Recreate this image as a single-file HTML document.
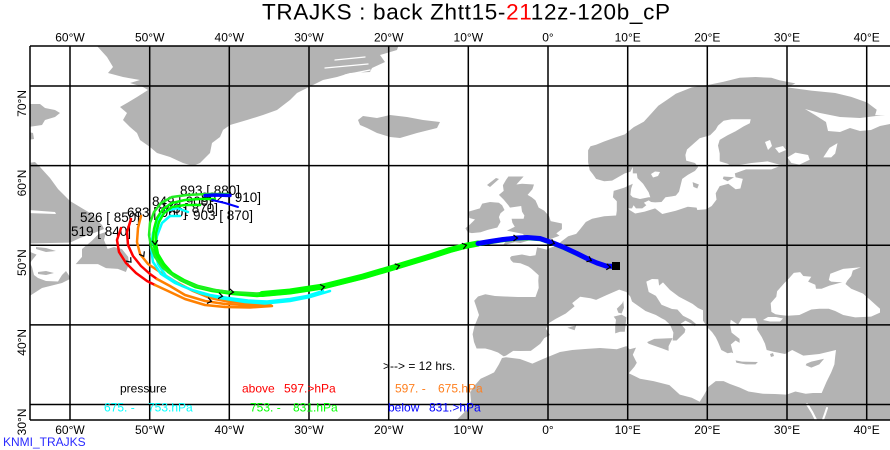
<!DOCTYPE html>
<html><head><meta charset="utf-8"><style>
html,body{margin:0;padding:0;background:#fff;}
svg{display:block;font-family:"Liberation Sans",Arial,sans-serif;}
</style></head><body>
<svg width="890" height="450" viewBox="0 0 890 450" xmlns="http://www.w3.org/2000/svg">
<rect x="0" y="0" width="890" height="450" fill="#fff"/>
<defs><clipPath id="cp"><rect x="30" y="46" width="860" height="374"/></clipPath></defs>
<g clip-path="url(#cp)">
<g fill="#b3b3b3" stroke="none">
<polygon points="456.6,420 460.6,416 468.6,408 471,401 470.2,392.3 474.2,386 480.6,378.7 487.7,375.5 494.1,372.4 498.9,364.4 502,358 503.7,356.4 498,352.5 491,350 485.3,348.5 476.6,348.5 474,342 472.6,334.2 474.5,326 477,320 479,315 476,306 474.2,300.7 478,296.5 485.3,294.3 495,296 505,296.5 518,297 527,297 535.5,297 538.7,288 538.3,280.8 538.7,275.2 531.6,268.9 528.4,266.5 520.4,263.3 513.2,262.5 510.8,260.1 510,257.7 511.6,256.1 522,254.5 530,256.1 535.5,255.3 537.1,247.4 540,248 546.7,249.6 549.9,248 557.9,245 561,241.8 568.2,236.2 576.2,233.9 580.2,229.1 585.8,222 592.1,218.7 604.1,216.3 616.1,215.5 616.8,210.8 616.8,201.2 612.9,197.2 613.7,190.9 624,187.7 632.8,183.7 631.2,188.5 630.4,194.9 632.8,197.2 640,199 648.7,197.2 650.3,197.2 648.7,192.4 643.1,183.7 637.5,178.1 636.8,173.4 632.8,173.4 632.8,167 630.4,171.7 624.8,173.4 612.1,180.6 604.1,181.3 596.1,178.9 592.9,174.2 589.7,170.2 588.1,162.2 588.1,157.4 588.1,150.3 590.5,146.3 596.1,144.7 604.1,141.5 615.2,137.5 624.8,134.4 633.6,127.2 643.9,121.6 651.1,113.7 658.3,105.7 667.9,99.3 675.8,93.8 691.8,87.4 707.7,85 723.6,81.8 739.6,77.8 755.5,77 771.4,77.8 779.4,80.2 795.4,83.4 787.4,87.4 811.3,90.6 835.2,93 851.2,96.9 867.1,102.5 876.7,109.7 875.1,115.3 895,115 895,425 450,425"/>
<polygon points="502.9,245.4 514.8,242.2 520.4,243 528.4,240.6 540.3,239.8 550.7,239 559.5,235.8 556.3,233.4 561.9,229.1 561.9,223.5 550.7,221.1 549.1,216.3 544.3,210.8 538.7,207.6 535.5,200.4 531.6,197.2 527.6,194.9 532.4,189.3 534,184.5 522,183.7 516.4,184.5 523.6,176.5 508.4,176.5 506.1,179.7 502.9,185.3 503.7,190.9 498.9,194.9 503.7,199.6 508.4,205.2 510,207.6 521.2,206 522,211.6 524.4,215.5 523.6,218.7 511.6,218.7 512.4,222.7 514.8,226.7 506.9,230.7 514.8,232.3 522.8,233.9 524.4,235.5 514.8,235.5 508.4,237.9"/>
<polygon points="487,185 496,178 499,179 490,187"/>
<polygon points="497.3,227.5 500.5,221.9 498.9,217.1 500.5,213.2 504.5,210 502.1,205.2 498.9,202.8 490.1,202 482.2,203.6 479.8,208.4 468.6,211.6 469.4,218 475,219.5 470.2,224.3 465.4,228.3 467.8,232.3 471.8,233.1 480.6,232.3 487.7,229.9"/>
<polygon points="90,44 97,46 107,57 113,67 108,73 123,77 140,80 130,83 143,87 148,90 137,97 127,103 120,107 127,113 123,120 130,127 137,133 140,140 150,147 157,153 170,157 183,163 193,166 200,163 210,153 212,143 220,137 223,130 230,125 247,120 263,115 277,110 290,100 297,93 309,87 323,80 337,77 350,73 370,72 372,68 385,62 380,55 397,50 399,44"/>
<polygon points="358,120 363,116 377,118 390,115 407,117 423,120 440,122 437,128 417,133 400,138 390,137 377,133 367,128 360,125"/>
<polygon points="28,104 40,104 45,108 55,110 60,113 55,117 45,120 42,125 28,127"/>
<polygon points="28,132 33,133 34,139 28,140"/>
<polygon points="28,163 35,162 40,167 50,178 58,189 65,196 70,201 80,207 90,213 97,220 102,225 104,229 94,233 80,238 70,242.6 50,243 28,243.5"/>
<polygon points="106,232 104,240 107.6,248.9 114,247 121.9,249 128.2,256.9 129,264 125.9,272 117.9,268.9 106,268.1 98,264.1 75.7,264.1 82,256.9 82,249 91.6,241 98,234.6"/>
<polygon points="36,247 46,248 56,251 46,252 36,249"/>
<polygon points="28,251 36.6,254.6 33,259 30,263 32,267 34,275 38,278 46,281 58,281.5 62,275 66,271 70,277 70,279 62,283 42,288 28,297"/>
<polygon points="38,272 46,271 54,273 46,275 38,274"/>
</g>
<g fill="#fff" stroke="none">
<polygon points="28,210 55,212 56,214 28,213"/>
<polygon points="805,109 820,113 840,117 860,118 876,116 895,114 895,123 880,126 871,130 860,131 850,128 840,132 828,131 826,122 815,115"/>
<polygon points="629.6,210 635.2,213.5 644.7,211.6 655.1,208.4 662.3,214 675.8,210.8 687.8,206.8 696.6,207.6 697.3,210 706.1,209.2 711.7,206 716.5,199.6 715.7,193.3 719.7,186.1 728.4,183.7 735.6,189.3 740.4,188.5 742.8,178.9 735.6,177.3 734.8,173.4 746,169.4 759.5,169.4 771.4,169.4 779.4,166.2 789,166.2 779.4,164.6 767.5,161.4 751.5,163 731.6,166.2 727.6,163.8 719.7,161.4 719.7,153.5 718,145.5 719.7,139.9 727.6,135.2 735.6,131.2 743.6,126.4 749.8,123.2 750.7,119.2 741.2,119.2 731.6,119.2 723.6,120.8 718,125.6 715.7,129.6 710.1,135.2 699.7,138.3 694.2,143.1 687,149.5 685.4,155 686.2,160.6 695,163 698.1,167 695,170.9 687.8,174.9 682.2,178.9 680.6,185.3 679,191.7 675.8,195.6 671.8,196.4 665.5,197.2 661.5,202 655.1,202.4 651.1,202 648.7,200.4 643.9,202.8 646.3,205.2 642.3,208.4 636,208.4 633.6,205.2 632,208.4 628,208.4"/>
<polygon points="651,174 655,171.5 660,172 658,176 653,177.5"/>
<polygon points="787.4,157.4 795.4,152.6 808.1,155 809.7,159.8 799.4,164.6 791.4,163"/>
<polygon points="823.3,157.4 829.5,147.9 837.5,143.1 835.2,153.5 831.2,157.4"/>
<polygon points="765,142 770,140 772,146 768,150"/>
<polygon points="775,148 783,146 786,150 779,153"/>
<polygon points="500,357.5 506,355.6 513.2,350.9 520,351 530.8,350.9 536,347 540.3,343.7 544.3,338.1 549.9,335 545.9,328.6 549,323 555.5,319 565.8,313.5 574.6,306.3 572.2,303.1 580.2,296.7 590.5,298.3 596.1,299.9 606.5,295.1 619.2,289.6 626.4,292 630.4,296.7 632,301.5 645.5,311 655.9,315 661.5,318.2 665,320 670,324.6 673.4,332.6 672.6,340.5 676.6,340.5 680.6,336.5 684.6,332.6 685.4,329.4 680.6,323.8 685.4,320.6 691.8,323.8 695,326.2 695.8,323.8 691,319.8 683,315.8 677.4,309.5 672,309 661.5,304.7 655.9,295.9 648.7,292 646.3,281.6 652,279 658.3,279.2 659.1,285.6 663,282.4 670,290 679,296.7 692.6,303.9 698,308 703,310.3 703,320.6 707.7,327.8 712,332 715.7,337.3 718,342 721.3,350 727.6,353.3 731.6,352.5 733.2,353.3 730.8,344.5 735.6,340.5 739.6,342.9 739.6,338.9 731.6,332.6 730,324.6 730.8,319.8 738,324.6 742,318.2 755.5,318.2 757.9,324.6 757,329.4 761.9,337.3 765,343.7 766.7,350 773.5,351.7 785,354 792.2,350 803.3,355.6 819.3,354 836,350 835.2,356.4 834.4,364.4 831.2,372.4 826.5,381.9 821.7,393 813,393 805.7,393.8 795.4,391.5 786.6,394.6 775,394 763.5,393.8 748.4,391.5 739.6,387.5 730,384 723.6,381.1 715.7,381.1 708.5,386.8 704,395 699.7,401.8 691.8,397.8 679.8,394.6 669.4,385.1 653.5,381.1 640,378.7 628.8,373.2 634.4,366.8 636.8,362.8 632.8,354.8 636,347.6 629.6,349.3 626.4,346.1 616.8,349.3 600,348 585,349 572.2,350 560,352 543.5,358.8 532.4,363.6 520,359 506,357.2 502,358"/>
<polygon points="771.4,311.9 770.7,303.1 776.3,296.7 777.1,291.2 784.2,283.2 789,278.4 793.8,272.9 800.2,272.1 803.3,276 811.3,276.8 808.1,281.6 815.3,284.8 816,288.8 821.6,288.8 829.5,285.6 838.4,283.2 842.3,282.4 831.2,281.6 828.8,280 830.3,273.7 843.2,268.9 860.9,267.3 852.8,270.5 851.2,276 847.2,280.8 845.5,284 851.2,288.8 863.1,293.6 871.1,300.7 880,308.7 880,312.6 871.1,316.6 855.2,317.4 843.2,315 835.2,311 828.8,308.7 819.3,308.7 811.3,309.5 799.4,315 787.4,315.8 780.2,315 775.5,314.2"/>
<polygon points="763,320 768,317 776,317 783,318.5 780,321.5 770,321.5"/>
</g>
<g fill="none" stroke="#fff" stroke-linecap="round">
<path d="M807,404 L812,412 L816.5,421" stroke-width="2.2"/>
<path d="M827,408 L825,414 L822.5,421" stroke-width="2"/>
<path d="M335,60 L365,57 M325,68 L368,64 M345,75 L370,70" stroke-width="1.3"/>
</g>
<g fill="#b3b3b3">
<polygon points="647.1,342.1 654.3,338.9 672.6,338.1 668.6,346.1 668.6,350.9 662.3,348.5 648.7,343.7"/>
<polygon points="613.7,316.6 621.6,314.6 626.4,317.4 624.8,331.8 620,331.8 615.2,333.4 615.2,326.2 616,319.8"/>
<polygon points="623.2,300.7 624,307.8 621.6,313.5 618.4,312.7 616.8,308.7 622.4,303.1"/>
<polygon points="735.6,360.4 742,361.6 757.9,362 755.5,364.4 745.9,364.4 736.4,362.8"/>
<polygon points="805.7,365.2 806.5,363.6 811.3,361.6 824.1,358.8 819.3,364.4 811.3,367.6"/>
<polygon points="567.4,327.8 576.2,325.4 574.6,330.2 569.8,328.6"/>
<polygon points="692.6,182.1 698.9,184.5 697.3,188.5 693.4,186.9"/>
<polygon points="723.6,176.5 734,177.3 727.6,181.3 722.8,178.9"/>
<polygon points="770,354 773,353 774,356 771,357"/>
</g>
<g stroke="#000" stroke-width="1.5" fill="none">
<path d="M70,46V420M149.7,46V420M229.3,46V420M309,46V420M388.7,46V420M468.3,46V420M548,46V420M627.7,46V420M707.3,46V420M787,46V420M866.7,46V420"/>
<path d="M30,86H890M30,165.6H890M30,245.2H890M30,324.9H890M30,404.5H890"/>
</g>
</g>
<g stroke="#000" stroke-width="1.5" fill="none">
<path d="M30,46H890M30,46V420M30,420H890"/>
</g>
<g font-size="13.5" fill="#000">
<text x="180" y="195">893 [ 880]</text>
<text x="152" y="206">849 [ 900]</text>
<text x="201" y="202">902 [ 910]</text>
<text x="158" y="213">843 [ 870]</text>
<text x="127" y="217">683 [ 960]</text>
<text x="193" y="220">903 [ 870]</text>
<text x="80" y="222">526 [ 850]</text>
<text x="71" y="236">519 [ 840]</text>
</g>
<g fill="none" stroke-linejoin="round" stroke-linecap="round">
<polyline stroke="#ff0000" stroke-width="2.5" points="131,219 127,232 128,245 133,256 141,266 150,274 157,279"/>
<polyline stroke="#ff0000" stroke-width="2.5" points="121,228 117,240 119,252 126,263 136,273 147,281 155,285"/>
<polyline stroke="#ff8000" stroke-width="2.5" points="141,216 138,228 137,242 140,254 148,264 160,272 176,282 193,291 210,298 230,302 250,302.5 268,302.5"/>
<polyline stroke="#ff8000" stroke-width="2.5" points="157,279 170,286 185,295 205,301 225,304 245,305 270,305"/>
<polyline stroke="#ff8000" stroke-width="2.5" points="155,285 168,291 185,299 205,305 225,307 250,307.5 272,306"/>
<polyline stroke="#ff8000" stroke-width="3.5" points="240,305 270,305"/>
<polyline stroke="#00ffff" stroke-width="2.5" points="188,212 177,208 166,211 158,220 153,233 151,248 153,262 161,274 175,283 192,290 210,295 228,298 248,300.5 267,301.5 290,299 307,296 323,291"/>
<polyline stroke="#00ffff" stroke-width="2.5" points="180,216 170,216 162,223 157,236 155,250 158,264 166,276 182,286 200,293 220,298 245,302 265,303.5 290,301 310,297 330,291"/>
<polyline stroke="#00ff00" stroke-width="2.5" points="200,205 185,205 172,207 164,213 159,222 156,233 156,244 158,254 164,264 172,273 184,280 198,286 215,290 235,293 257,295 290,292 323,287 363,277 397,267 430,257"/>
<polyline stroke="#00ff00" stroke-width="2.5" points="215,199 200,199 185,200 172,203 163,209 157,218 154,229 153,240 155,251 160,262 168,272 180,280 195,287 212,291 233,294 257,296 290,293 323,288 363,278 397,268 430,258 450,251.5 465,247.5 478,245 490,243 503,241 517,239.5 527,239 540,240 553,244.5 563,248.5 577,255 590,261 597,264 606,267 615,267.5"/>
<polyline stroke="#22ee22" stroke-width="2.5" points="228,194 207,194 187,195 172,197 161,203 154,212 150,223 149,235 151,246 155,257 163,268 175,277 190,284 207,289 230,292 257,293.5 290,290.5 323,285.5 363,275.5 397,265.5 430,255.5 450,249 465,245 478,242.5 490,240.5 503,238.5 517,237 527,236.5 540,237.5 553,242 563,246 577,252.5 590,259 597,262 606,265 615,265.5"/>
<polyline stroke="#00ff00" stroke-width="6" points="262,294 290,291.5 323,286.5 363,276.5 397,266.5 430,256.5 450,250 465,246 478,243.5"/>
<polyline stroke="#0000ff" stroke-width="5" points="478,243.5 490,241.5 503,239.5 517,238 527,237.5 540,238.5 553,243 563,247 577,253.5 590,260 597,263 606,266 615,266.5"/>
<polyline stroke="#0000ff" stroke-width="3.5" points="205,195.5 215,195 230,195.5"/>
<polyline stroke="#0000ff" stroke-width="2" points="212,200 225,203 238,207"/>
</g>
<g fill="none" stroke="#000" stroke-width="1.2">
<path d="M-2.5,-3L1.5,0L-2.5,3" transform="translate(590,260) rotate(25)"/>
<path d="M-2.5,-3L1.5,0L-2.5,3" transform="translate(553,243) rotate(20)"/>
<path d="M-2.5,-3L1.5,0L-2.5,3" transform="translate(516,238) rotate(0)"/>
<path d="M-2.5,-3L1.5,0L-2.5,3" transform="translate(465,245.5) rotate(-15)"/>
<path d="M-2.5,-3L1.5,0L-2.5,3" transform="translate(398,266) rotate(-17)"/>
<path d="M-2.5,-3L1.5,0L-2.5,3" transform="translate(323,287) rotate(-10)"/>
<path d="M-2.5,-3L1.5,0L-2.5,3" transform="translate(232,292) rotate(5)"/>
<path d="M-2.5,-3L1.5,0L-2.5,3" transform="translate(221,296) rotate(8)"/>
<path d="M-2.5,-3L1.5,0L-2.5,3" transform="translate(210,301) rotate(12)"/>
<path d="M-2.5,-3L1.5,0L-2.5,3" transform="translate(155,243) rotate(85)"/>
<path d="M-2.5,-3L1.5,0L-2.5,3" transform="translate(143,255) rotate(60)"/>
<path d="M-2.5,-3L1.5,0L-2.5,3" transform="translate(130,261) rotate(50)"/>
<path d="M-2.5,-3L1.5,0L-2.5,3" transform="translate(609,267) rotate(5)"/>
</g>
<rect x="612" y="262" width="8" height="8" fill="#000"/>
<text x="262" y="19.5" font-size="22.5" fill="#000" textLength="408" lengthAdjust="spacing">TRAJKS : back Zhtt15-<tspan fill="#ff0000">21</tspan>12z-120b_cP</text>
<g font-size="12" fill="#000" text-anchor="middle">
<text x="70" y="41.5">60°W</text><text x="149.7" y="41.5">50°W</text><text x="229.3" y="41.5">40°W</text><text x="309" y="41.5">30°W</text><text x="388.7" y="41.5">20°W</text><text x="468.3" y="41.5">10°W</text><text x="548" y="41.5">0°</text><text x="627.7" y="41.5">10°E</text><text x="707.3" y="41.5">20°E</text><text x="787" y="41.5">30°E</text><text x="866.7" y="41.5">40°E</text>
<text x="70" y="434">60°W</text><text x="149.7" y="434">50°W</text><text x="229.3" y="434">40°W</text><text x="309" y="434">30°W</text><text x="388.7" y="434">20°W</text><text x="468.3" y="434">10°W</text><text x="548" y="434">0°</text><text x="627.7" y="434">10°E</text><text x="707.3" y="434">20°E</text><text x="787" y="434">30°E</text><text x="866.7" y="434">40°E</text>
</g>
<g font-size="12" fill="#000" text-anchor="end">
<text transform="translate(26,90) rotate(-90)">70°N</text>
<text transform="translate(26,169.6) rotate(-90)">60°N</text>
<text transform="translate(26,249.2) rotate(-90)">50°N</text>
<text transform="translate(26,328.9) rotate(-90)">40°N</text>
<text transform="translate(26,408.5) rotate(-90)">30°N</text>
</g>
<g font-size="12">
<text x="383" y="370" fill="#000">&gt;--&gt; = 12 hrs.</text>
<text x="120" y="392.5" fill="#000">pressure</text>
<text x="242" y="392.5" fill="#ff0000">above</text>
<text x="284" y="392.5" fill="#ff0000">597.&gt;hPa</text>
<text x="395" y="392.5" fill="#ff8020">597. -</text>
<text x="438" y="392.5" fill="#ff8020">675.hPa</text>
<text x="104" y="411.5" fill="#00ffff">675. -</text>
<text x="148" y="411.5" fill="#00ffff">753.hPa</text>
<text x="250" y="411.5" fill="#00ff00">753. -</text>
<text x="293" y="411.5" fill="#00ff00">831.hPa</text>
<text x="388" y="411.5" fill="#0000ff">below</text>
<text x="429" y="411.5" fill="#0000ff">831.&gt;hPa</text>
<text x="3" y="446" fill="#2a2aff">KNMI_TRAJKS</text>
</g>
</svg>
</body></html>
